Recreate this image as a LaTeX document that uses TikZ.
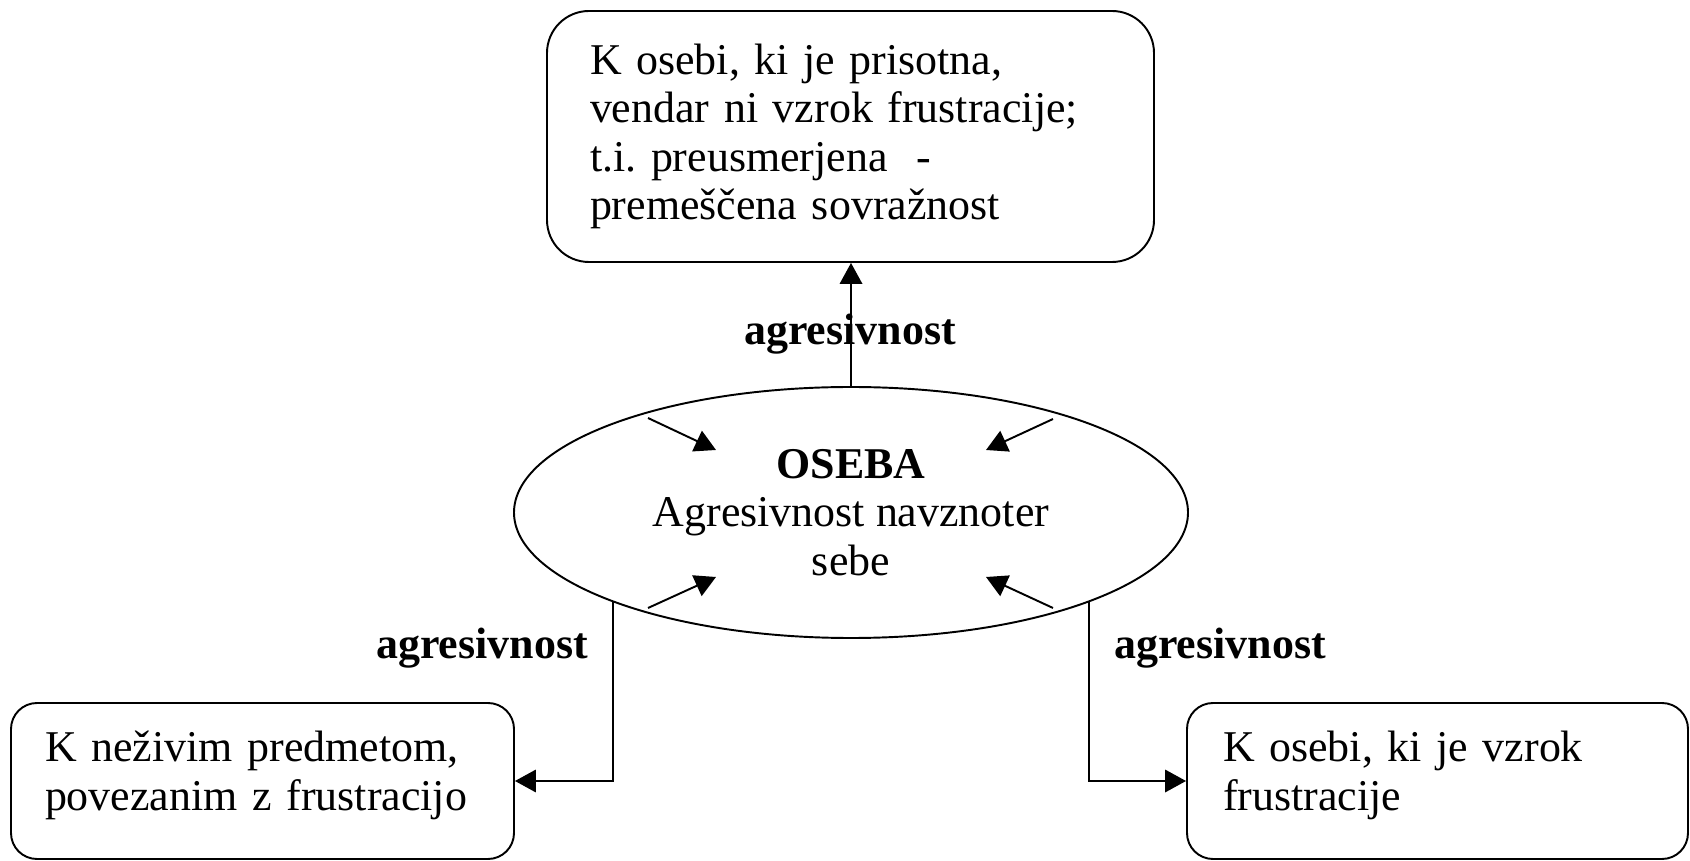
\documentclass[tikz,border=0pt]{standalone}
\usepackage{fontspec}
\setmainfont{Liberation Serif}
\frenchspacing
\usetikzlibrary{shapes.geometric,arrows.meta}

\tikzset{
  besedilo/.style={font=\fontsize{25}{27.5}\selectfont},
  okvir/.style={besedilo,draw,line width=1.1pt,align=left,inner ysep=0pt},
  oznaka/.style={font=\fontsize{25}{27.5}\selectfont\bfseries},
  puscica/.style={-{Triangle[length=0.42cm,width=0.45cm]},line width=1.1pt}
}

\begin{document}
\begin{tikzpicture}
            \useasboundingbox (0,0) rectangle (33.8,17.2);

            \node[okvir,rounded corners=0.84cm,minimum width=12.14cm,minimum height=5.02cm,
                  inner xsep=0.86cm,text width=10.42cm] (prisotna) at (17.01,14.47)
                 {K osebi, ki je prisotna,\\vendar ni vzrok frustracije;\\t.i. preusmerjena\ \ -\\premeščena sovražnost};

            \node[besedilo,draw,ellipse,line width=1.1pt,minimum width=13.48cm,minimum height=5.02cm,
                  inner sep=0pt,align=center] (oseba) at (17.02,6.95)
                 {\textbf{OSEBA}\\Agresivnost navznoter\\sebe};

            \node[okvir,rounded corners=0.52cm,minimum width=10.06cm,minimum height=3.12cm,
                  inner xsep=0.68cm,text width=8.7cm,text depth=1.38cm] (predmeti) at (5.25,1.58)
                 {K neživim predmetom,\\povezanim z frustracijo};

            \node[okvir,rounded corners=0.52cm,minimum width=10.02cm,minimum height=3.12cm,
                  inner xsep=0.72cm,text width=8.58cm,text depth=1.38cm] (vzrok) at (28.75,1.58)
                 {K osebi, ki je vzrok\\frustracije};

            \node[oznaka] (agr1) at (17.0,10.52) {agresivnost};
            \node[oznaka] (agr2) at (9.64,4.24) {agresivnost};
            \node[oznaka] (agr3) at (24.4,4.24) {agresivnost};

            \coordinate (lzac) at (12.26,5.16);
            \coordinate (dzac) at (21.78,5.16);

            \draw[puscica] (oseba.north) -- (oseba.north |- prisotna.south);
            \draw[puscica] (lzac) |- (predmeti.east);
            \draw[puscica] (dzac) |- (vzrok.west);

            \coordinate (a1) at (12.96,8.84);
            \coordinate (b1) at (14.32,8.2);
            \coordinate (a2) at (21.06,8.82);
            \coordinate (b2) at (19.72,8.2);
            \coordinate (a3) at (12.96,5.04);
            \coordinate (b3) at (14.32,5.66);
            \coordinate (a4) at (21.06,5.04);
            \coordinate (b4) at (19.72,5.66);

            \draw[puscica] (a1) -- (b1);
            \draw[puscica] (a2) -- (b2);
            \draw[puscica] (a3) -- (b3);
            \draw[puscica] (a4) -- (b4);
\end{tikzpicture}
\end{document}
